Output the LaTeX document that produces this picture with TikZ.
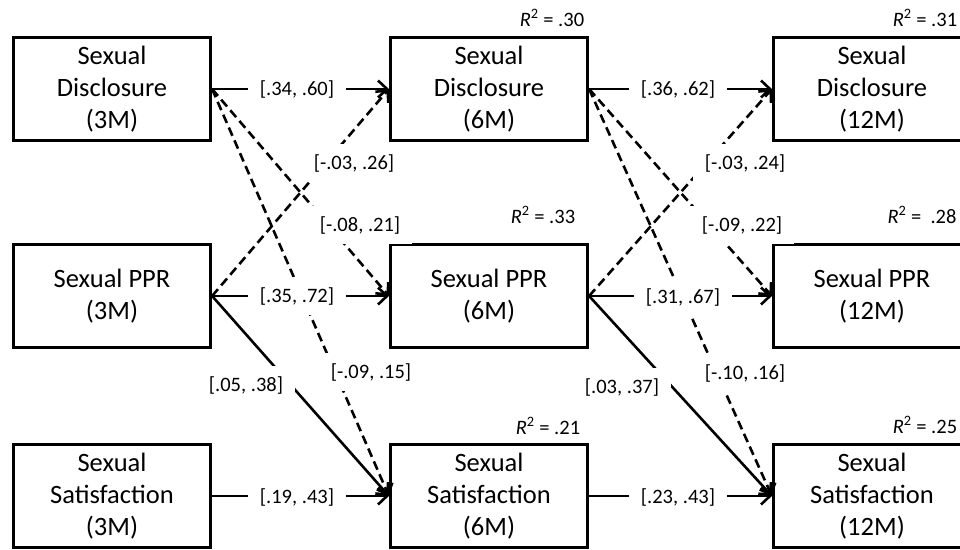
\documentclass[tikz,border=0pt]{standalone}
\usepackage{fontspec}
\setmainfont{Carlito}
\usetikzlibrary{arrows.meta}
\begin{document}
\begin{tikzpicture}[x=1pt,y=-1pt,
  varbox/.style={draw, line width=3.2pt, minimum width=197pt, minimum height=102.5pt,
    align=center, inner sep=0pt, font=\fontsize{26.5}{32}\selectfont},
  ci/.style={fill=white, inner xsep=12pt, inner ysep=10pt, font=\fontsize{20.5}{24}\selectfont},
  rsq/.style={inner sep=0pt, font=\fontsize{20.5}{24}\selectfont},
  sigarrow/.style={line width=2.6pt, -{Straight Barb[length=9pt,width=17pt]}},
  nsarrow/.style={sigarrow, dash pattern=on 9pt off 5pt}]
\useasboundingbox (0,0) rectangle (960,549);
\clip (0,0) rectangle (960,549);

% boxes
\node[varbox] (sd3)  at (112,89)  {Sexual\\Disclosure\\(3M)};
\node[varbox] (ppr3) at (112,296) {Sexual PPR\\(3M)};
\node[varbox] (sat3) at (112,496) {Sexual\\Satisfaction\\(3M)};
\node[varbox] (sd6)  at (489,89)  {Sexual\\Disclosure\\(6M)};
\node[varbox] (ppr6) at (489,296) {Sexual PPR\\(6M)};
\node[varbox] (sat6) at (489,496) {Sexual\\Satisfaction\\(6M)};
\node[varbox] (sd12)  at (872,89)  {Sexual\\Disclosure\\(12M)};
\node[varbox] (ppr12) at (872,296) {Sexual PPR\\(12M)};
\node[varbox] (sat12) at (872,496) {Sexual\\Satisfaction\\(12M)};

% R squared
\node[rsq] (r1) at (552,18)  {\textit{R}\textsuperscript{2} = .30};
\node[rsq] (r2) at (925,18)  {\textit{R}\textsuperscript{2} = .31};
\node[rsq] (r3) at (543,215) {\textit{R}\textsuperscript{2} = .33};
\node[rsq] (r4) at (922,215) {\textit{R}\textsuperscript{2} = \ .28};
\node[rsq] (r5) at (548,426) {\textit{R}\textsuperscript{2} = .21};
\node[rsq] (r6) at (925,425) {\textit{R}\textsuperscript{2} = .25};

% paths 3M -> 6M
\draw[sigarrow] (sd3.east) -- (sd6.west);
\draw[nsarrow] (sd3.east) -- (ppr6.west);
\draw[nsarrow] (sd3.east) -- (sat6.west);
\draw[nsarrow] (ppr3.east) -- (sd6.west);
\draw[sigarrow] (ppr3.east) -- (ppr6.west);
\draw[sigarrow] (ppr3.east) -- (sat6.west);
\draw[sigarrow] (sat3.east) -- (sat6.west);

% paths 6M -> 12M
\draw[sigarrow] (sd6.east) -- (sd12.west);
\draw[nsarrow] (sd6.east) -- (ppr12.west);
\draw[nsarrow] (sd6.east) -- (sat12.west);
\draw[nsarrow] (ppr6.east) -- (sd12.west);
\draw[sigarrow] (ppr6.east) -- (ppr12.west);
\draw[sigarrow] (ppr6.east) -- (sat12.west);
\draw[sigarrow] (sat6.east) -- (sat12.west);

% confidence interval labels
\node[ci] (c1)  at (297,89)  {[.34, .60]};
\node[ci] (c2)  at (354,163) {[-.03, .26]};
\node[ci] (c3)  at (360,225) {[-.08, .21]};
\node[ci] (c4)  at (297,296) {[.35, .72]};
\node[ci] (c5)  at (246,385) {[.05, .38]};
\node[ci] (c6)  at (371,372) {[-.09, .15]};
\node[ci] (c7)  at (297,497) {[.19, .43]};
\node[ci] (c8)  at (678,89)  {[.36, .62]};
\node[ci] (c9)  at (745,163) {[-.03, .24]};
\node[ci] (c10) at (742,225) {[-.09, .22]};
\node[ci] (c11) at (683,297) {[.31, .67]};
\node[ci] (c12) at (622,387) {[.03, .37]};
\node[ci] (c13) at (745,373) {[-.10, .16]};
\node[ci] (c14) at (678,497) {[.23, .43]};
\end{tikzpicture}
\end{document}
